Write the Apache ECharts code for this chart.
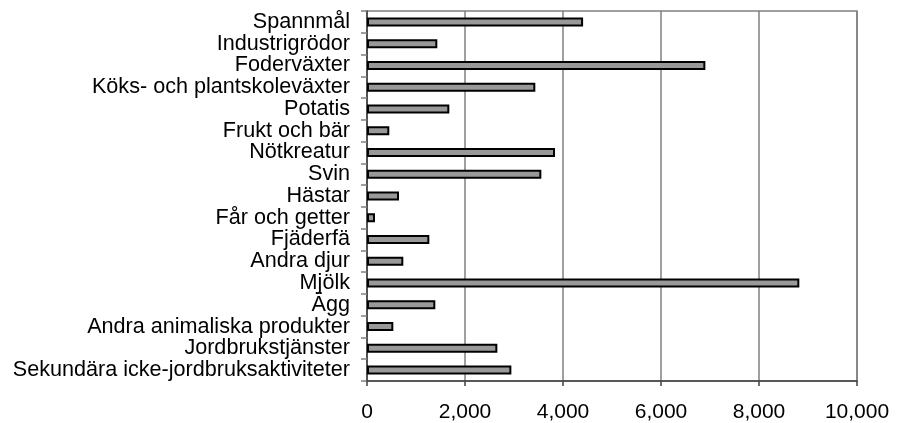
<!DOCTYPE html>
<html><head><meta charset="utf-8">
<script src="https://cdn.jsdelivr.net/npm/echarts@6/dist/echarts.min.js"></script>
<style>html,body{margin:0;padding:0;background:#fff}#c{width:898px;height:423px}</style>
</head><body><div id="c"></div>
<script>
const categories = ["Spannmål","Industrigrödor","Foderväxter","Köks- och plantskoleväxter","Potatis","Frukt och bär","Nötkreatur","Svin","Hästar","Får och getter","Fjäderfä","Andra djur","Mjölk","Ägg","Andra animaliska produkter","Jordbrukstjänster","Sekundära icke-jordbruksaktiviteter"];
const values = [4410,1435,6905,3435,1680,455,3837,3558,653,163,1272,741,8823,1394,537,2660,2946];
const xTicks = [0,2000,4000,6000,8000,10000];

const chart = echarts.init(document.getElementById('c'), null, {renderer:'canvas'});
const font = 'Liberation Sans, Arial, sans-serif';
chart.setOption({
  animation:false,
  grid:{left:367,right:41,top:11,bottom:42,show:true,borderColor:'#808080',borderWidth:1.5},
  xAxis:{type:'value',min:xTicks[0],max:xTicks[xTicks.length-1],interval:2000,
    axisLine:{show:true,lineStyle:{color:'#404040',width:1.5}},
    axisTick:{show:true,length:5,lineStyle:{color:'#404040',width:1.5}},
    splitLine:{show:true,lineStyle:{color:'#808080',width:1.5}},
    axisLabel:{color:'#000',fontFamily:font,fontSize:21,margin:21,
      formatter:v=>v.toLocaleString('en-US')}},
  yAxis:{type:'category',data:categories,inverse:true,
    axisLine:{show:true,lineStyle:{color:'#404040',width:1.5}},
    axisTick:{show:true,length:6,lineStyle:{color:'#808080',width:1.5}},
    axisLabel:{color:'#000',fontFamily:font,fontSize:21.6,margin:17,interval:0}},
  series:[{type:'bar',data:values,barWidth:9,
    itemStyle:{color:'#999999',borderColor:'#000',borderWidth:2}}]
});
</script></body></html>
